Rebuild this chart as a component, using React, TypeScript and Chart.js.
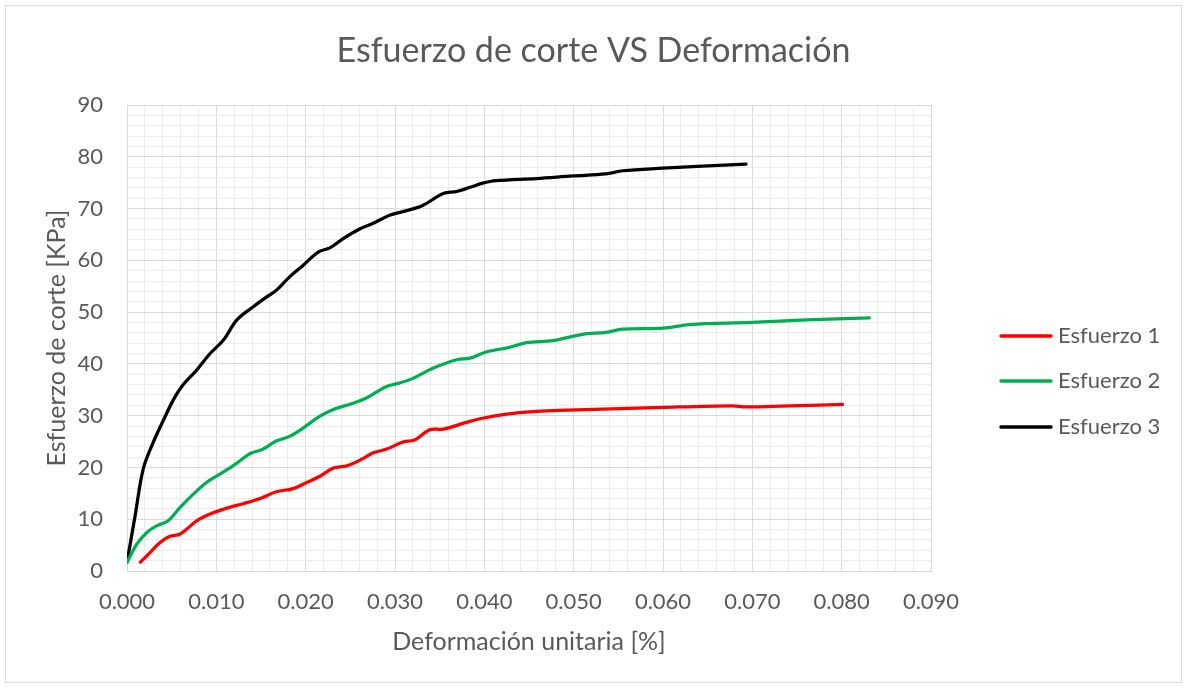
import React, { useEffect, useRef } from "react";
import { Chart, registerables } from "chart.js";

Chart.register(...registerables);

const chartTitle = "Esfuerzo de corte VS Deformación";
const xAxisTitle = "Deformación unitaria [%]";
const yAxisTitle = "Esfuerzo de corte [KPa]";
const seriesNames = ["Esfuerzo 1", "Esfuerzo 2", "Esfuerzo 3"];
const seriesColors = ["#FF0000", "#00B050", "#000000"];

const x1 = [0.0015, 0.0026, 0.0037, 0.0048, 0.0059, 0.0067, 0.0078, 0.0093, 0.0111, 0.013, 0.0149, 0.0167, 0.0186, 0.0201, 0.0216, 0.0231, 0.0246, 0.0264, 0.0275, 0.029, 0.0309, 0.0322, 0.0339, 0.0354, 0.038, 0.0398, 0.0425, 0.0454, 0.0484, 0.06, 0.0678, 0.0693, 0.0801];
const y1 = [1.7, 3.6, 5.5, 6.7, 7.1, 8.1, 9.7, 11, 12.1, 13, 14, 15.3, 15.9, 17.1, 18.3, 19.9, 20.3, 21.7, 22.8, 23.5, 24.9, 25.3, 27.3, 27.4, 28.7, 29.5, 30.3, 30.8, 31, 31.6, 31.9, 31.7, 32.2];

const x2 = [0, 0.0011, 0.0022, 0.0033, 0.0046, 0.0059, 0.0074, 0.0089, 0.0104, 0.0121, 0.0138, 0.0152, 0.0167, 0.0182, 0.0197, 0.0216, 0.0231, 0.0253, 0.0268, 0.029, 0.0305, 0.032, 0.0343, 0.0369, 0.0384, 0.0402, 0.0428, 0.0447, 0.0477, 0.051, 0.0536, 0.0555, 0.06, 0.063, 0.07, 0.076, 0.0831];
const y2 = [1.7, 5.2, 7.4, 8.7, 9.7, 12.2, 14.8, 17.1, 18.7, 20.6, 22.7, 23.5, 25.1, 26, 27.6, 29.9, 31.2, 32.4, 33.4, 35.6, 36.3, 37.2, 39.2, 40.8, 41.1, 42.3, 43.2, 44.1, 44.5, 45.7, 46.1, 46.7, 46.9, 47.6, 48, 48.5, 48.9];

const x3 = [0, 0.0009, 0.0018, 0.0029, 0.0041, 0.0052, 0.0063, 0.0078, 0.0093, 0.0108, 0.0123, 0.0141, 0.0156, 0.0167, 0.0182, 0.0197, 0.0214, 0.0227, 0.0242, 0.0261, 0.0275, 0.0294, 0.0313, 0.0331, 0.0354, 0.0369, 0.0384, 0.0398, 0.0413, 0.0458, 0.0499, 0.0536, 0.0555, 0.06, 0.0644, 0.0693];
const y3 = [1.7, 10.6, 19.6, 24.7, 29.2, 33.1, 36, 38.8, 42, 44.6, 48.5, 51, 52.9, 54.2, 56.8, 59, 61.6, 62.4, 64.2, 66.1, 67.1, 68.7, 69.6, 70.6, 72.9, 73.3, 74.1, 74.9, 75.4, 75.8, 76.3, 76.7, 77.3, 77.8, 78.2, 78.6];

const xMin = 0, xMax = 0.09, xMinorStep = 0.002;
const yMin = 0, yMax = 90, yMinorStep = 2;

const FONT = "Lato, 'Open Sans', sans-serif";
const TEXT = "#595959";
const MAJOR = "#d9d9d9";
const MINOR = "#ebebeb";

const toPoints = (xs: number[], ys: number[]) => xs.map((x, i) => ({ x, y: ys[i] }));

const decorPlugin = {
  id: "decor",
  beforeDraw(chart: any) {
    const ctx = chart.ctx;
    ctx.save();
    ctx.fillStyle = "#ffffff";
    ctx.fillRect(0, 0, chart.width, chart.height);
    ctx.strokeStyle = "#d9d9d9";
    ctx.lineWidth = 1;
    ctx.strokeRect(5.5, 5.5, chart.width - 11, chart.height - 11);
    ctx.restore();
  },
  afterDraw(chart: any) {
    const ctx = chart.ctx;
    ctx.save();
    ctx.fillStyle = TEXT;
    ctx.font = `34px ${FONT}`;
    ctx.textAlign = "center";
    ctx.textBaseline = "middle";
    ctx.fillText(chartTitle, chart.width / 2, 51);
    // legend
    const ys = [336, 381, 427];
    chart.data.datasets.forEach((ds: any, i: number) => {
      ctx.strokeStyle = ds.borderColor;
      ctx.lineWidth = 3.5;
      ctx.lineCap = "round";
      ctx.beginPath();
      ctx.moveTo(1001, ys[i]);
      ctx.lineTo(1051, ys[i]);
      ctx.stroke();
      ctx.fillStyle = TEXT;
      ctx.font = `22px ${FONT}`;
      ctx.textAlign = "left";
      ctx.textBaseline = "middle";
      ctx.fillText(ds.label, 1058, ys[i]);
    });
    ctx.restore();
  },
};

export default function App() {
  const ref = useRef<HTMLCanvasElement | null>(null);
  useEffect(() => {
    if (!ref.current) return;
    const isMajorX = (v: number) => Math.round(v / xMinorStep) % 5 === 0;
    const isMajorY = (v: number) => Math.round(v / yMinorStep) % 5 === 0;
    const chart = new Chart(ref.current, {
      type: "line",
      data: {
        datasets: [
          { label: seriesNames[0], data: toPoints(x1, y1), borderColor: seriesColors[0], backgroundColor: seriesColors[0] },
          { label: seriesNames[1], data: toPoints(x2, y2), borderColor: seriesColors[1], backgroundColor: seriesColors[1] },
          { label: seriesNames[2], data: toPoints(x3, y3), borderColor: seriesColors[2], backgroundColor: seriesColors[2] },
        ],
      },
      options: {
        animation: false,
        responsive: false,
        parsing: false as any,
        elements: {
          line: { borderWidth: 3.25, tension: 0.35, borderCapStyle: "round", borderJoinStyle: "round", fill: false },
          point: { radius: 0, hoverRadius: 0 },
        },
        layout: { padding: { left: 10, top: 105, right: 256, bottom: 17 } },
        plugins: { legend: { display: false }, title: { display: false }, tooltip: { enabled: false } },
        scales: {
          x: {
            type: "linear",
            min: xMin,
            max: xMax,
            afterBuildTicks: (scale: any) => {
              const t = [];
              const n = Math.round((xMax - xMin) / xMinorStep);
              for (let i = 0; i <= n; i++) t.push({ value: xMin + i * xMinorStep });
              scale.ticks = t;
            },
            afterFit: (scale: any) => { scale.height = 100; },
            ticks: {
              autoSkip: false,
              maxRotation: 0,
              padding: 18,
              color: TEXT,
              font: { family: FONT, size: 22 },
              callback: (v: any) => (isMajorX(Number(v)) ? Number(v).toFixed(3) : ""),
            },
            grid: {
              drawTicks: false,
              color: (c: any) => (c.tick && isMajorX(c.tick.value) ? MAJOR : MINOR),
              lineWidth: 1,
            },
            border: { color: MAJOR, width: 1 },
            title: { display: true, text: xAxisTitle, color: TEXT, font: { family: FONT, size: 25 }, padding: { top: 0, bottom: 14 } },
          },
          y: {
            type: "linear",
            min: yMin,
            max: yMax,
            afterBuildTicks: (scale: any) => {
              const t = [];
              const n = Math.round((yMax - yMin) / yMinorStep);
              for (let i = 0; i <= n; i++) t.push({ value: yMin + i * yMinorStep });
              scale.ticks = t;
            },
            afterFit: (scale: any) => { scale.width = 117; },
            ticks: {
              autoSkip: false,
              padding: 24,
              color: TEXT,
              font: { family: FONT, size: 22 },
              callback: (v: any) => (isMajorY(Number(v)) ? String(Math.round(Number(v))) : ""),
            },
            grid: {
              drawTicks: false,
              color: (c: any) => (c.tick && isMajorY(c.tick.value) ? MAJOR : MINOR),
              lineWidth: 1,
            },
            border: { color: MAJOR, width: 1 },
            title: { display: true, text: yAxisTitle, color: TEXT, font: { family: FONT, size: 25 }, padding: { top: 32, bottom: 0 } },
          },
        },
      },
      plugins: [decorPlugin],
    } as any);
    return () => chart.destroy();
  }, []);
  return (
    <div style={{ position: "absolute", left: 0, top: 0, width: 1187, height: 688, background: "#fff" }}>
      <canvas ref={ref} width={1187} height={688} style={{ width: 1187, height: 688, display: "block" }} />
    </div>
  );
}
